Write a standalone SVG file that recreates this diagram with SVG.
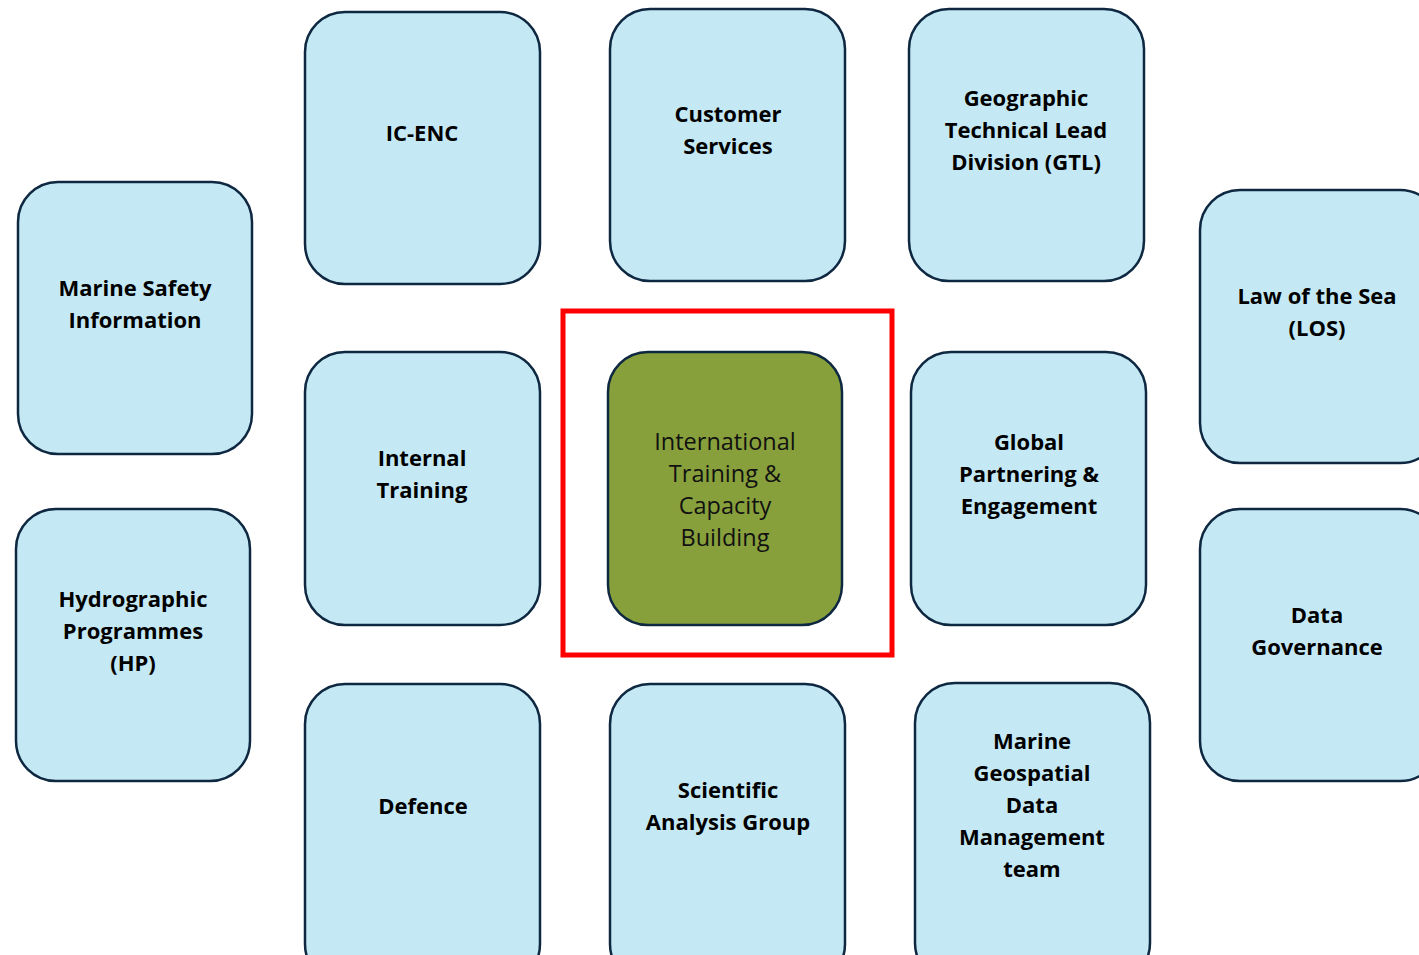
<svg xmlns="http://www.w3.org/2000/svg" width="1419" height="955" viewBox="0 0 1419 955">
<style>
.box{fill:#C5E9F4;stroke:#0E2841;stroke-width:2.5}
.core{fill:#88A03C;stroke:#0E2841;stroke-width:2.5}
.t{font-family:"Open Sans","Liberation Sans",sans-serif;font-size:22px;font-weight:bold;fill:#000;text-anchor:middle}
.tc{font-family:"Open Sans","Liberation Sans",sans-serif;font-size:23.5px;font-weight:normal;fill:#111;text-anchor:middle}
</style>
<rect width="1419" height="955" fill="#fff"/>
<g id="marine-safety"><rect class="box" x="18" y="182" width="234" height="272" rx="40"/><text class="t" x="135" y="296">Marine Safety</text><text class="t" x="135" y="328">Information</text></g>
<g id="hydrographic"><rect class="box" x="16" y="509" width="234" height="272" rx="40"/><text class="t" x="133" y="607">Hydrographic</text><text class="t" x="133" y="639">Programmes</text><text class="t" x="133" y="671">(HP)</text></g>
<g id="ic-enc"><rect class="box" x="305" y="12" width="235" height="272" rx="40"/><text class="t" x="422" y="141">IC-ENC</text></g>
<g id="customer-services"><rect class="box" x="610" y="9" width="235" height="272" rx="40"/><text class="t" x="728" y="122">Customer</text><text class="t" x="728" y="154">Services</text></g>
<g id="gtl"><rect class="box" x="909" y="9" width="235" height="272" rx="40"/><text class="t" x="1026" y="106">Geographic</text><text class="t" x="1026" y="138">Technical Lead</text><text class="t" x="1026" y="170">Division (GTL)</text></g>
<g id="los"><rect class="box" x="1200" y="190" width="240" height="273" rx="40"/><text class="t" x="1317" y="304">Law of the Sea</text><text class="t" x="1317" y="336">(LOS)</text></g>
<g id="internal-training"><rect class="box" x="305" y="352" width="235" height="273" rx="40"/><text class="t" x="422" y="466">Internal</text><text class="t" x="422" y="498">Training</text></g>
<g id="highlight"><rect x="563" y="311" width="329" height="344" fill="none" stroke="#FF0000" stroke-width="5"/></g>
<g id="itcb"><rect class="core" x="608" y="352" width="234" height="273" rx="40"/><text class="tc" x="725" y="450">International</text><text class="tc" x="725" y="482">Training &amp;</text><text class="tc" x="725" y="514">Capacity</text><text class="tc" x="725" y="546">Building</text></g>
<g id="global-partnering"><rect class="box" x="911" y="352" width="235" height="273" rx="40"/><text class="t" x="1029" y="450">Global</text><text class="t" x="1029" y="482">Partnering &amp;</text><text class="t" x="1029" y="514">Engagement</text></g>
<g id="data-governance"><rect class="box" x="1200" y="509" width="240" height="272" rx="40"/><text class="t" x="1317" y="623">Data</text><text class="t" x="1317" y="655">Governance</text></g>
<g id="defence"><rect class="box" x="305" y="684" width="235" height="300" rx="40"/><text class="t" x="423" y="814">Defence</text></g>
<g id="scientific"><rect class="box" x="610" y="684" width="235" height="300" rx="40"/><text class="t" x="728" y="798">Scientific</text><text class="t" x="728" y="830">Analysis Group</text></g>
<g id="marine-geospatial"><rect class="box" x="915" y="683" width="235" height="300" rx="40"/><text class="t" x="1032" y="749">Marine</text><text class="t" x="1032" y="781">Geospatial</text><text class="t" x="1032" y="813">Data</text><text class="t" x="1032" y="845">Management</text><text class="t" x="1032" y="877">team</text></g>
<g id="connectors"></g>
</svg>
